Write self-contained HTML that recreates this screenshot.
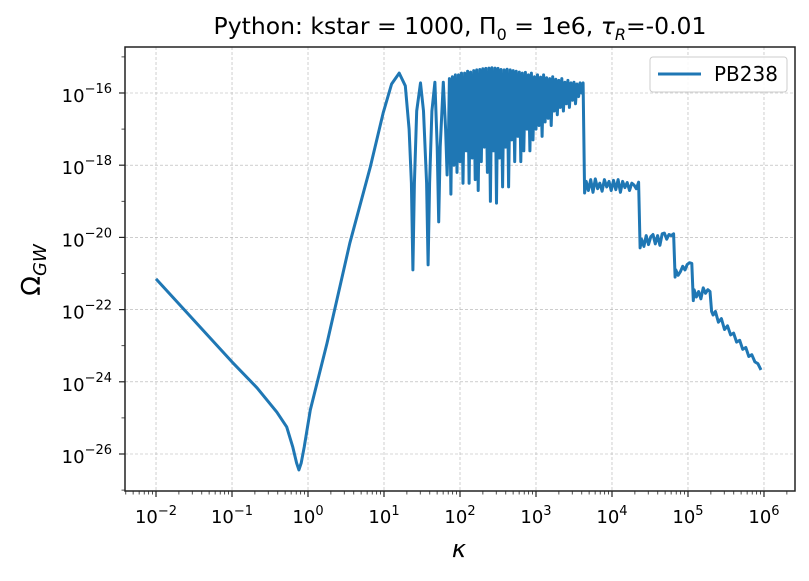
<!DOCTYPE html>
<html><head><meta charset="utf-8"><style>
body{margin:0;background:#fff;width:809px;height:577px;overflow:hidden;font-family:"DejaVu Sans","Liberation Sans",sans-serif}
</style></head><body>
<svg id="chart" width="809" height="577" viewBox="0 0 809 577" xmlns="http://www.w3.org/2000/svg" font-family="DejaVu Sans, Liberation Sans, sans-serif">
<text x="460" y="34" text-anchor="middle" font-size="23.5">Python: kstar = 1000, Π<tspan font-size="16" dy="6">0</tspan><tspan dy="-6"> = 1e6, </tspan><tspan font-style="italic">τ</tspan><tspan font-size="16" dy="6" font-style="italic">R</tspan><tspan dy="-6">=-0.01</tspan></text>
<g id="grid"></g>
<g id="ticks"></g>
<g id="series"></g>
<rect x="125" y="47" width="670" height="444" fill="none" stroke="#222" stroke-width="1.5"/>
<text x="459" y="557" text-anchor="middle" font-size="24" font-style="italic">κ</text>
<text transform="translate(40,270) rotate(-90)" text-anchor="middle" font-size="26">Ω<tspan font-size="18" dy="6" font-style="italic">GW</tspan></text>
<g>
<rect x="650" y="57" width="137" height="35" rx="3" fill="#fff" fill-opacity="0.85" stroke="#ccc"/>
<line x1="658" y1="74" x2="701" y2="74" stroke="#1f77b4" stroke-width="3"/>
<text x="714" y="81" font-size="20">PB238</text>
</g>
</svg>
<script>
const logK=[-2.00,-1.50,-1.00,-0.67,-0.41,-0.28,-0.20,-0.15,-0.12,-0.09,-0.05,0.03,0.25,0.55,0.82,0.99,1.10,1.20,1.28,1.33,1.36,1.38,1.40,1.43,1.48,1.52,1.56,1.58,1.60,1.63,1.67,1.70,1.72,1.74,1.78,1.81,1.83,1.85,
1.86,1.88,1.90,1.92,1.94,1.96,1.98,2.00,2.02,2.04,2.06,2.08,2.10,2.12,2.14,2.16,2.18,2.20,2.22,2.24,2.26,2.28,2.30,2.32,2.34,2.36,2.38,2.40,2.42,2.44,2.46,2.48,2.50,2.52,2.54,2.56,2.58,2.60,2.62,2.64,2.66,2.68,2.70,2.72,2.74,2.76,2.78,2.80,2.82,2.84,2.86,2.88,2.90,2.92,2.94,2.96,2.98,3.00,3.02,3.04,3.06,3.08,3.10,3.12,3.14,3.16,3.18,3.20,3.22,3.24,3.26,3.28,3.30,3.32,3.34,3.36,3.38,3.40,3.42,3.44,3.46,3.48,3.50,3.52,3.54,3.56,3.58,3.60,3.62,
3.64,3.66,3.69,3.72,3.75,3.78,3.81,3.84,3.87,3.90,3.93,3.96,3.99,4.02,4.05,4.08,4.11,4.14,4.17,4.20,4.23,4.26,4.29,4.32,4.35,4.37,
4.39,4.42,4.45,4.48,4.51,4.54,4.57,4.60,4.63,4.66,4.69,4.72,4.75,4.78,4.81,4.83,
4.84,4.87,4.90,4.93,4.96,4.99,5.02,5.05,5.07,
5.08,5.11,5.14,5.17,5.20,5.23,5.26,5.29,5.31,
5.33,5.36,5.40,5.44,5.48,5.52,5.56,5.60,5.64,5.68,5.72,5.76,5.80,5.84,5.88,5.92,5.96,6.00];
const logOmega=[-21.15,-22.30,-23.45,-24.17,-24.84,-25.25,-25.81,-26.25,-26.44,-26.25,-25.81,-24.78,-22.93,-20.16,-18.05,-16.55,-15.75,-15.45,-15.80,-17.00,-18.50,-20.90,-18.50,-16.50,-15.72,-16.50,-18.50,-20.76,-18.50,-16.50,-15.70,-17.50,-19.57,-17.50,-15.70,-17.00,-18.27,-17.00,
-15.60,-18.80,-15.55,-18.00,-15.50,-18.20,-15.50,-17.90,-15.45,-18.50,-15.45,-17.60,-15.40,-18.50,-15.42,-17.80,-15.38,-18.40,-15.36,-18.70,-15.35,-17.90,-15.33,-17.50,-15.32,-18.20,-15.31,-19.00,-15.30,-17.60,-15.31,-19.05,-15.32,-17.80,-15.35,-18.60,-15.36,-17.50,-15.34,-18.60,-15.36,-17.30,-15.38,-17.90,-15.40,-17.20,-15.42,-17.90,-15.45,-17.60,-15.43,-17.00,-15.50,-17.60,-15.45,-17.30,-15.55,-17.00,-15.50,-16.90,-15.56,-17.20,-15.50,-16.80,-15.58,-16.70,-15.60,-16.90,-15.55,-16.50,-15.62,-16.60,-15.65,-16.40,-15.60,-16.50,-15.70,-16.30,-15.65,-16.40,-15.72,-16.20,-15.70,-16.30,-15.75,-16.10,-15.72,-16.00,
-15.72,-18.77,-18.45,-18.70,-18.40,-18.75,-18.38,-18.65,-18.50,-18.72,-18.40,-18.60,-18.45,-18.70,-18.42,-18.68,-18.40,-18.75,-18.45,-18.62,-18.48,-18.70,-18.50,-18.55,-18.65,-18.47,
-20.29,-20.05,-20.25,-19.95,-20.20,-19.98,-19.92,-20.18,-19.95,-20.22,-19.90,-19.88,-20.05,-19.92,-19.95,-19.90,
-21.10,-20.90,-21.05,-20.95,-20.80,-20.90,-20.75,-20.70,-20.72,
-21.75,-21.45,-21.65,-21.50,-21.70,-21.40,-21.55,-21.45,-21.50,
-22.05,-22.15,-22.05,-22.35,-22.25,-22.55,-22.45,-22.70,-22.65,-22.90,-22.85,-23.10,-23.05,-23.30,-23.25,-23.45,-23.50,-23.67];
const xTickExp=[-2,-1,0,1,2,3,4,5,6];
const yTickExp=[-16,-18,-20,-22,-24,-26];
const X0=125,X1=795,Y0=47,Y1=491,KMIN=-2.408,KMAX=6.408,OMAX=-14.726,OMIN=-27.025;
function sx(v){return X0+(v-KMIN)/(KMAX-KMIN)*(X1-X0);}
function sy(v){return Y0+(OMAX-v)/(OMAX-OMIN)*(Y1-Y0);}
const NS='http://www.w3.org/2000/svg';
function mk(tag,attrs,parent){const e=document.createElementNS(NS,tag);for(const k in attrs)e.setAttribute(k,attrs[k]);parent.appendChild(e);return e;}
const grid=document.getElementById('grid'),ticks=document.getElementById('ticks'),series=document.getElementById('series');
xTickExp.forEach(e=>{
  const x=sx(e);
  const g=mk('line',{x1:x,y1:Y0,x2:x,y2:Y1,stroke:'#b0b0b0','stroke-width':0.6,'stroke-dasharray':'3,2'},grid);
  
  
  const t=mk('line',{x1:x,y1:Y1,x2:x,y2:Y1+6,stroke:'#222','stroke-width':1.2},ticks);
  
  
  const l=mk('text',{x:x,y:523,'text-anchor':'middle','font-size':18},ticks);
  
  
  l.innerHTML='10<tspan font-size="13" dy="-8">'+(e<0?'−'+(-e):e)+'</tspan>';
});
for(let e=-3;e<=6;e++){for(let m=2;m<=9;m++){const v=e+Math.log10(m);if(v<KMIN||v>KMAX)continue;const x=sx(v);
  const t=mk('line',{x1:x,y1:Y1,x2:x,y2:Y1+3.5,stroke:'#222','stroke-width':0.8},ticks);
  
  }}
yTickExp.forEach(e=>{
  const y=sy(e);
  const g=mk('line',{x1:X0,y1:y,x2:X1,y2:y,stroke:'#b0b0b0','stroke-width':0.6,'stroke-dasharray':'3,2'},grid);
  
  
  const t=mk('line',{x1:X0-6,y1:y,x2:X0,y2:y,stroke:'#222','stroke-width':1.2},ticks);
  
  
  const l=mk('text',{x:112,y:y+9,'text-anchor':'end','font-size':18},ticks);
  
  
  l.innerHTML='10<tspan font-size="13" dy="-9">−'+(-e)+'</tspan>';
});
for(let e=-27;e<=-15;e++){const y=sy(e);if(y<Y0||y>Y1||yTickExp.includes(e))continue;
  const t=mk('line',{x1:X0-3.5,y1:y,x2:X0,y2:y,stroke:'#222','stroke-width':0.8},ticks);
  
  }
const d=logK.map((k,i)=>(i?'L':'M')+sx(k).toFixed(1)+','+sy(logOmega[i]).toFixed(1)).join('');
const p=mk('path',{d:d,fill:'none',stroke:'#1f77b4','stroke-width':3,'stroke-linejoin':'round'},series);


</script>
</body></html>
